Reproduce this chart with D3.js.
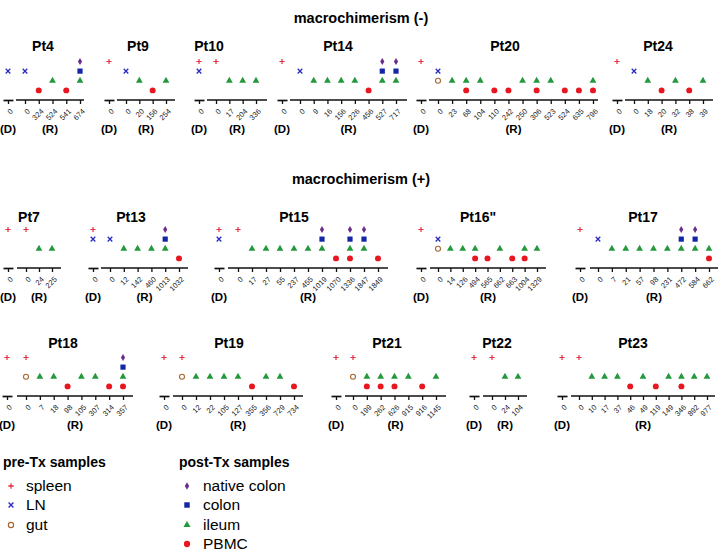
<!DOCTYPE html>
<html>
<head>
<meta charset="utf-8">
<script src="https://cdn.jsdelivr.net/npm/d3@7"></script>
<style>
  body { margin: 0; background: #fff; font-family: "Liberation Sans", Arial, sans-serif; }
</style>
</head>
<body>
<div id="chart"></div>
<script>
// ---- dados ----
const headings = ["macrochimerism (-)", "macrochimerism (+)"];
const patients = ["Pt4", "Pt9", "Pt10", "Pt14", "Pt20", "Pt24",
  "Pt7", "Pt13", "Pt15", "Pt16\"", "Pt17",
  "Pt18", "Pt19", "Pt21", "Pt22", "Pt23"];

// tipos de amostra: S spleen, L LN, G gut | N native colon, C colon, I ileum, P PBMC
const preTxCodes = ["S", "L", "G"];
const preTxNames = ["spleen", "LN", "gut"];
const postTxCodes = ["N", "C", "I", "P"];
const postTxNames = ["native colon", "colon", "ileum", "PBMC"];

// amostras do doador (D)
const donorSamples = ["L", "S", "SL", "S", "S", "S",
  "S", "SL", "SL", "S", "S",
  "S", "S", "S", "S", "S"];

// dias após Tx do receptor (R) = rótulos dos ticks
const recipientDays = [
  [0, 324, 524, 541, 674],
  [0, 20, 156, 254],
  [0, 17, 204, 336],
  [0, 9, 16, 156, 226, 456, 527, 717],
  [0, 23, 68, 104, 110, 242, 250, 306, 523, 524, 635, 796],
  [0, 18, 20, 32, 38, 39],
  [0, 24, 225],
  [0, 12, 142, 460, 1013, 1032],
  [0, 17, 27, 55, 237, 455, 1019, 1070, 1336, 1847, 1849],
  [0, 14, 126, 494, 565, 662, 663, 1004, 1329],
  [0, 7, 21, 57, 98, 231, 472, 584, 662],
  [0, 7, 18, 98, 105, 307, 314, 357],
  [0, 12, 22, 105, 127, 355, 356, 729, 734],
  [0, 199, 262, 626, 915, 916, 1145],
  [0, 24, 104],
  [0, 10, 17, 37, 46, 49, 119, 149, 346, 892, 977]
];

// amostras do receptor em cada dia
const recipientSamples = [
  ["L", "P", "I", "P", "NCI"],
  ["L", "I", "P", "I"],
  ["S", "I", "I", "I"],
  ["L", "I", "I", "I", "I", "P", "NCI", "NCI"],
  ["LG", "I", "IP", "I", "P", "P", "I", "IP", "I", "P", "P", "IP"],
  ["L", "I", "P", "I", "P", "I"],
  ["S", "I", "I"],
  ["L", "I", "I", "I", "NCI", "P"],
  ["S", "I", "I", "I", "I", "I", "NCI", "P", "NCIP", "NCI", "P"],
  ["LG", "I", "I", "IP", "P", "I", "P", "IP", "I"],
  ["L", "I", "I", "I", "I", "I", "NCI", "NCI", "IP"],
  ["SG", "I", "I", "P", "I", "I", "P", "NCIP"],
  ["SG", "I", "I", "I", "I", "P", "I", "I", "P"],
  ["SG", "IP", "IP", "IP", "I", "P", "I"],
  ["S", "I", "I"],
  ["S", "I", "I", "I", "P", "I", "P", "I", "IP", "I", "I"]
];

// ---- layout (posições de cada painel) ----
const panelRow =  [0, 0, 0, 0, 0, 0, 1, 1, 1, 1, 1, 2, 2, 2, 2, 2];
const dTickX =    [8, 109, 199, 282, 421, 617, 8, 93, 219, 421, 580, 7, 164, 336, 474, 562];
const rStartX =   [16, 117, 207, 290, 429, 625, 17, 101, 228, 430, 590, 17, 173, 345, 483, 571];
const rEndX =     [84, 175, 267, 407, 598, 713, 61, 188, 388, 546, 718, 133, 303, 446, 527, 715];
const firstTick = [25, 126, 216, 300, 438, 634, 26, 110, 238, 438, 598, 26, 182, 353, 492, 579];
const lastTick =  [80, 166, 256, 396, 593, 703, 52, 179, 378, 537, 709, 123, 294, 436, 518, 707];
const titleX =    [43, 138, 209, 338, 505, 658, 29, 131, 294, 478, 643, 63, 229, 387, 497, 633];
const rowAxisY = [100, 268, 396];
const rowTitleY = [46, 217, 343];
const headingY = [18, 179];

const levelOf = { S: 0, N: 0, L: 1, C: 1, G: 2, I: 2, P: 3 };

const W = 720, H = 552;
const svg = d3.select("#chart").append("svg")
  .attr("width", W).attr("height", H)
  .style("font-family", "'Liberation Sans', Arial, sans-serif");

// desenha um símbolo
function drawMarker(g, code, cx, cy, k) {
  k = k || 1;
  const t = `translate(${cx},${cy}) scale(${k})`;
  if (code === "S") {
    g.append("path").attr("d", "M-2.6,0H2.6M0,-2.6V2.6")
      .attr("transform", t).attr("stroke", "#e3323f").attr("stroke-width", 1.2).attr("fill", "none");
  } else if (code === "L") {
    g.append("path").attr("d", "M-2.3,-2.3L2.3,2.3M-2.3,2.3L2.3,-2.3")
      .attr("transform", t).attr("stroke", "#2b2bc4").attr("stroke-width", 1.3).attr("fill", "none");
  } else if (code === "G") {
    g.append("circle").attr("r", 2.5)
      .attr("transform", t).attr("stroke", "#a5652e").attr("stroke-width", 1.1).attr("fill", "#fff");
  } else if (code === "N") {
    g.append("path").attr("d", d3.symbol(d3.symbolDiamond, 15)())
      .attr("transform", t).attr("fill", "#6a2c8e");
  } else if (code === "C") {
    g.append("path").attr("d", d3.symbol(d3.symbolSquare, 27)())
      .attr("transform", t).attr("fill", "#1426a6");
  } else if (code === "I") {
    g.append("path").attr("d", d3.symbol(d3.symbolTriangle, 20)())
      .attr("transform", t).attr("fill", "#24993c");
  } else if (code === "P") {
    g.append("path").attr("d", d3.symbol(d3.symbolCircle, 28)())
      .attr("transform", t).attr("fill", "#e8161f");
  }
}

// títulos dos grupos
svg.selectAll("text.heading")
  .data(headings)
  .enter()
  .append("text")
  .attr("class", "heading")
  .attr("x", 361)
  .attr("y", (d, i) => headingY[i])
  .attr("dy", "0.35em")
  .attr("text-anchor", "middle")
  .style("font-size", "14.5px")
  .style("font-weight", "700")
  .text(d => d);

patients.forEach((name, i) => {
  const row = panelRow[i];
  const axisY = rowAxisY[row];
  const g = svg.append("g").attr("class", "panel");

  const y = d3.scaleLinear().domain([0, 4]).range([axisY - 38.5, axisY]);

  // eixo D
  const xD = d3.scalePoint().domain(["0"]).range([dTickX[i] - 5, dTickX[i] + 5]).padding(0.5);
  const dAxis = g.append("g")
    .attr("transform", `translate(0,${axisY})`)
    .call(d3.axisBottom(xD).tickSizeInner(4).tickSizeOuter(0));

  // eixo R
  const days = recipientDays[i];
  const xR = d3.scalePoint().domain(d3.range(days.length)).range([firstTick[i], lastTick[i]]);
  const rAxis = g.append("g")
    .attr("transform", `translate(0,${axisY})`)
    .call(d3.axisBottom(xR).tickSizeInner(4).tickSizeOuter(0).tickFormat(j => days[j]));
  rAxis.select(".domain").attr("d", `M${rStartX[i]},0H${rEndX[i]}`);

  [dAxis, rAxis].forEach(ax => {
    ax.select(".domain").attr("stroke", "#111").attr("stroke-width", 1.7);
    ax.selectAll(".tick line").attr("stroke", "#111").attr("stroke-width", 1.3);
    ax.selectAll(".tick text")
      .attr("x", 0).attr("y", 0).attr("dy", "0.35em")
      .attr("text-anchor", "end")
      .attr("transform", "translate(3,10) rotate(-45)")
      .style("font-size", "7.5px")
      .style("font-family", "'Liberation Sans', Arial, sans-serif")
      .attr("fill", "#222");
  });

  // (D) e (R)
  g.append("text")
    .attr("x", dTickX[i]).attr("y", axisY + 29).attr("dy", "0.35em")
    .attr("text-anchor", "middle")
    .style("font-size", "11.5px").style("font-weight", "700")
    .text("(D)");
  g.append("text")
    .attr("x", (rStartX[i] + rEndX[i]) / 2).attr("y", axisY + 29).attr("dy", "0.35em")
    .attr("text-anchor", "middle")
    .style("font-size", "11.5px").style("font-weight", "700")
    .text("(R)");

  // título do painel
  g.append("text")
    .attr("x", titleX[i]).attr("y", rowTitleY[row]).attr("dy", "0.35em")
    .attr("text-anchor", "middle")
    .style("font-size", "14px").style("font-weight", "700")
    .text(name);

  // marcadores
  const mg = g.append("g").attr("class", "markers");
  donorSamples[i].split("").forEach(c => drawMarker(mg, c, dTickX[i], y(levelOf[c])));
  recipientSamples[i].forEach((codes, j) => {
    codes.split("").forEach(c => drawMarker(mg, c, xR(j), y(levelOf[c])));
  });
});

// legenda
const legendRows = [486, 505, 525, 544];
function legendBlock(title, codes, names, markX, textX) {
  const lg = svg.append("g").attr("class", "legend");
  lg.append("text")
    .attr("x", markX - 8).attr("y", 462).attr("dy", "0.35em")
    .style("font-size", "14px").style("font-weight", "700")
    .text(title);
  codes.forEach((c, k) => {
    drawMarker(lg, c, markX, legendRows[k], 1.05);
    lg.append("text")
      .attr("x", textX).attr("y", legendRows[k]).attr("dy", "0.35em")
      .style("font-size", "15.5px")
      .text(names[k]);
  });
}
legendBlock("pre-Tx samples", preTxCodes, preTxNames, 11, 26);
legendBlock("post-Tx samples", postTxCodes, postTxNames, 187, 203);
</script>
</body>
</html>
